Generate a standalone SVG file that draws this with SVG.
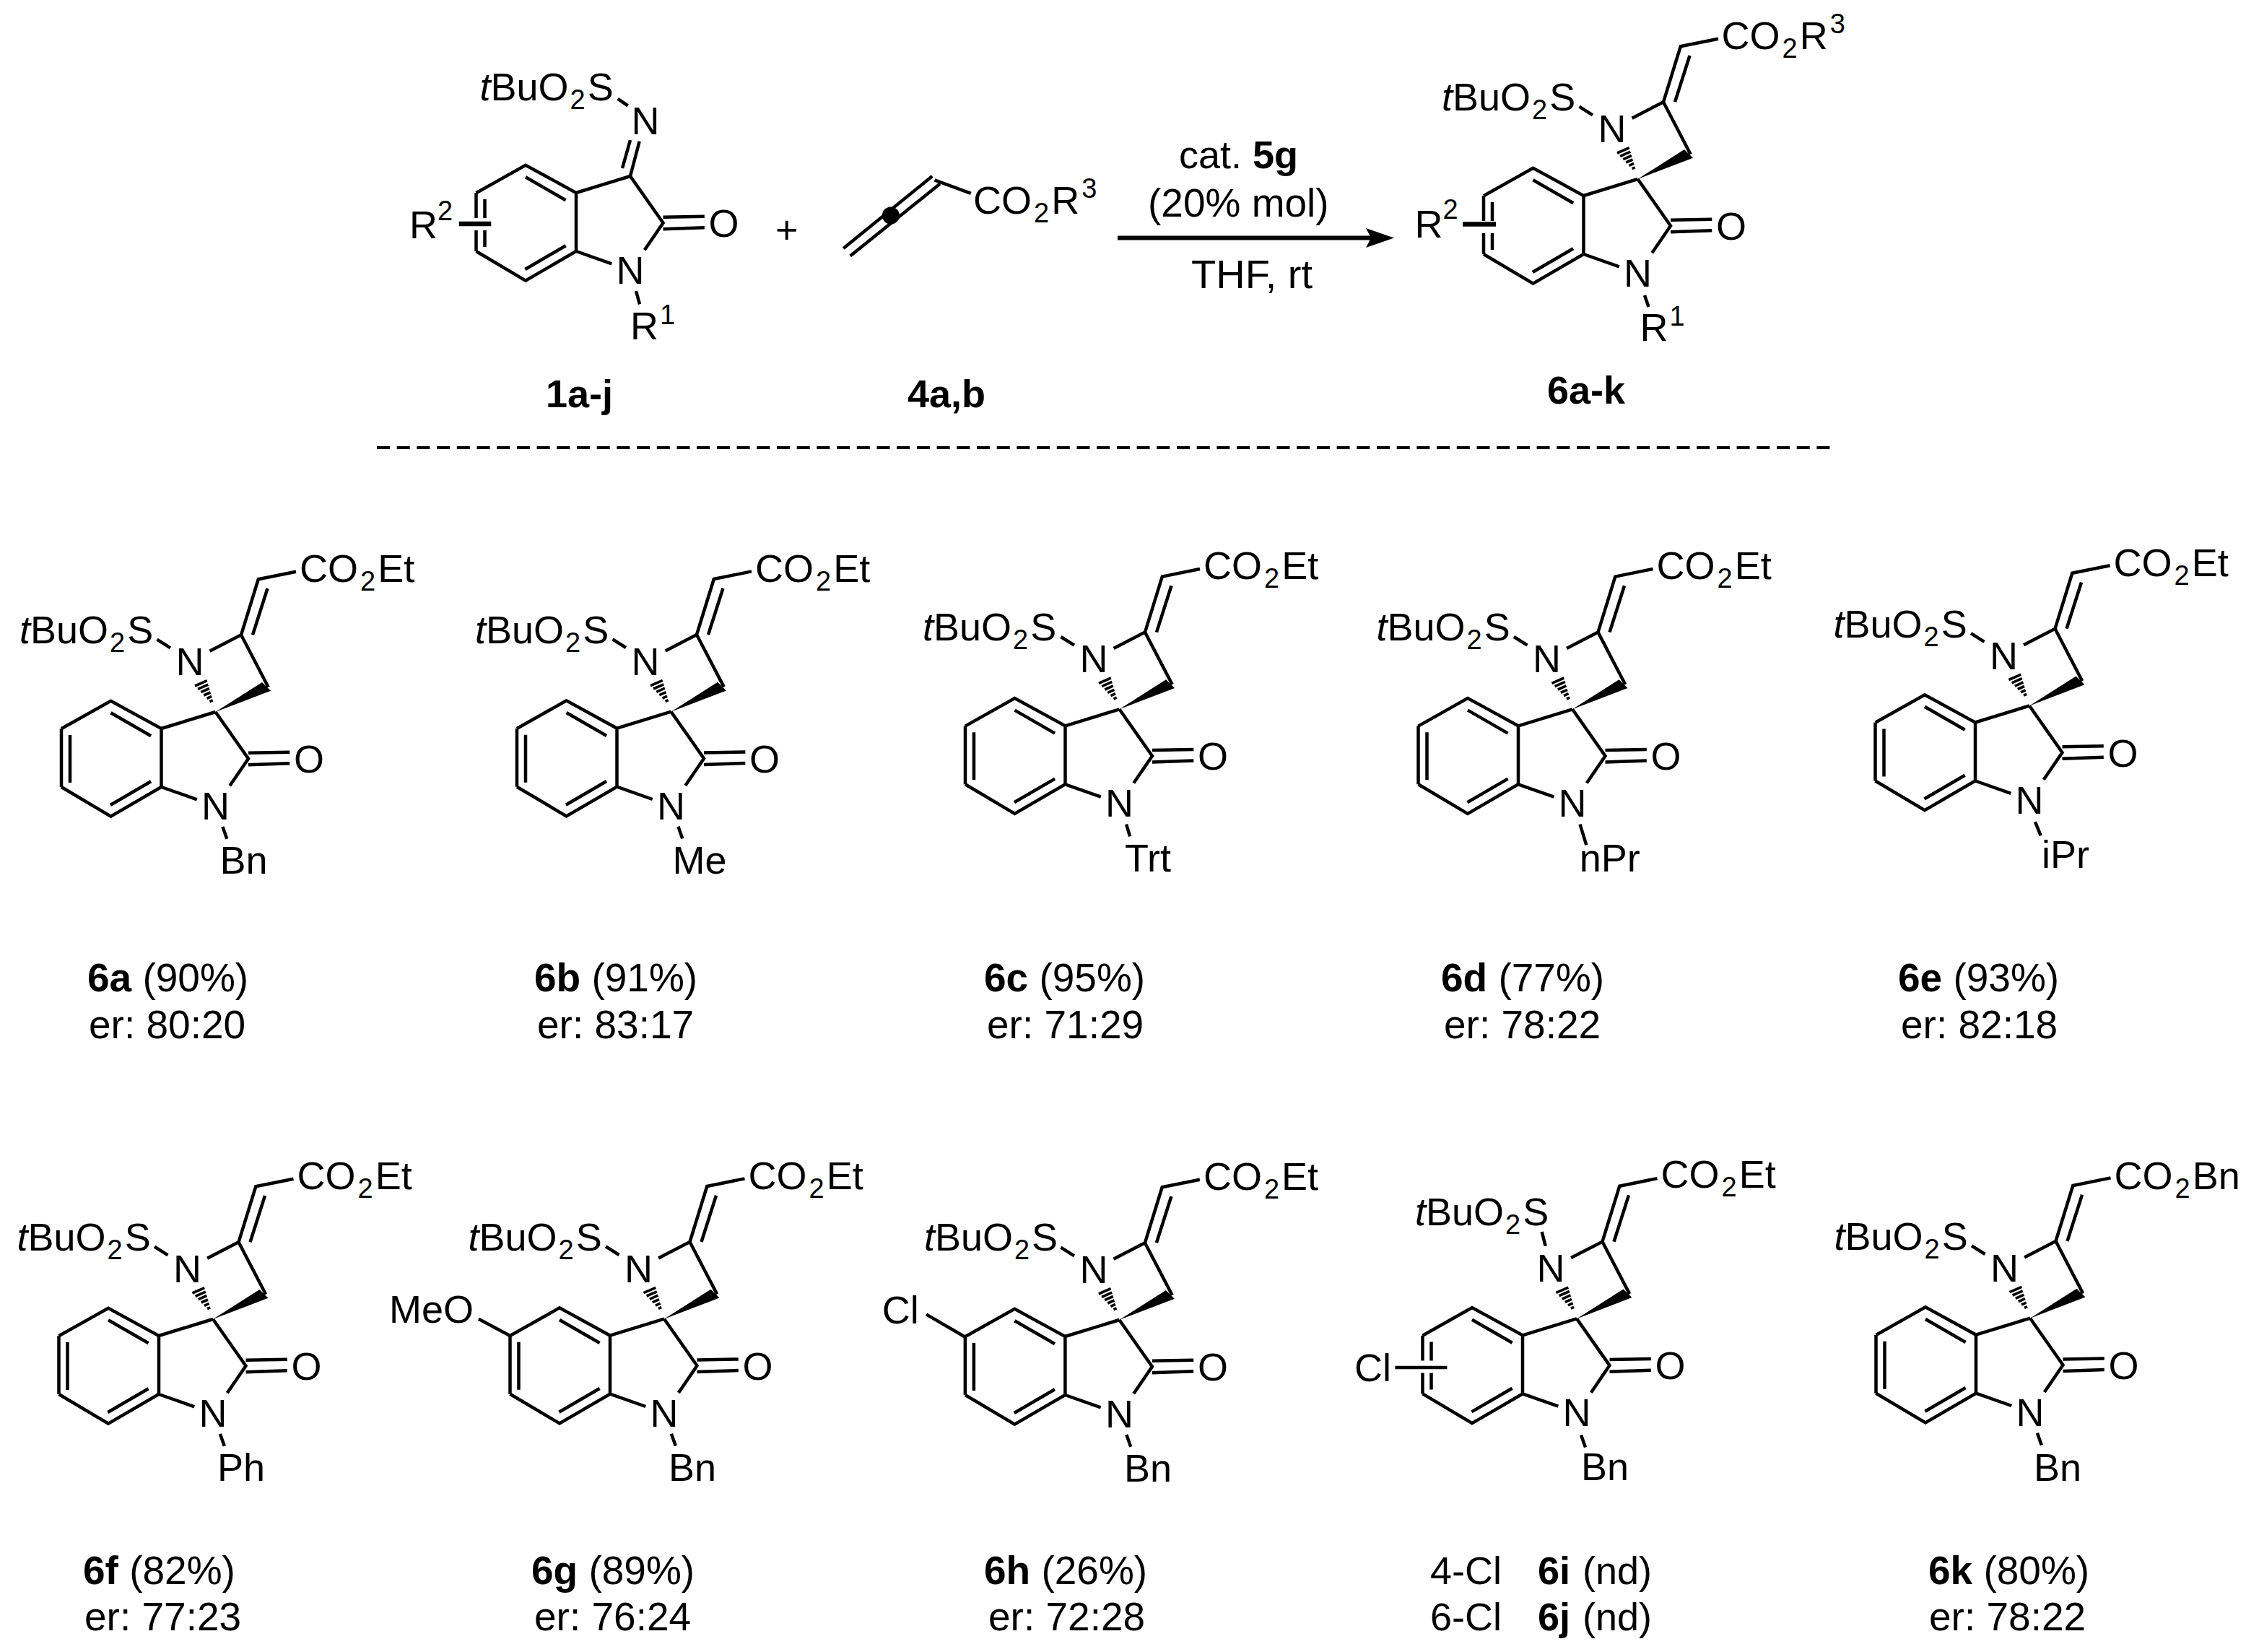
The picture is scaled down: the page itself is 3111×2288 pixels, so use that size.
<svg xmlns="http://www.w3.org/2000/svg" width="3111" height="2288" viewBox="0 0 3111 2288">
<style>
text{font-family:"Liberation Sans",Arial,sans-serif;font-size:54px;fill:#000}
.m{text-anchor:middle}
.b{font-weight:bold}
.i{font-style:italic}
.s{font-size:38px}
.y{font-size:55px}
.l{fill:none;stroke:#000;stroke-width:4.5;stroke-linejoin:miter;stroke-linecap:butt}
.h{fill:none;stroke:#000;stroke-width:3.6}
.f{fill:#000;stroke:none}
</style>
<defs>
<g id="indole">
<path class="l" d="M-213.5,23.3L-145,-15.3L-75,23V104L-145,144.7L-213.5,104M-145,1.3L-89.4,33.3M-145.6,129L-89.4,96.3M0,0L-75,23M0,0L45.5,64.7L19.8,102.3M-75,104L-25.7,121.3M45.5,56.7L102.8,55.7M45.5,73.3L102.8,71.3"/>
</g>
<path id="leftFull" class="l" d="M-213.5,23.3V104M-201.5,32V98"/>
<path id="leftGap" class="l" d="M-213.5,23.3V58M-213.5,75V104M-201.5,32V58M-201.5,75V98"/>
<g id="azet">
<path class="l" d="M-7.9,-84.3L35.5,-106.7L73.2,-34.3M35.5,-106.7L59.3,-183.7L111.5,-194.3M51.5,-106.7L72,-171"/>
<polygon class="f" points="0,0 64.5,-41 76.5,-29.3"/>
<path class="h" d="M-28.5,-36L-11.7,-43.3M-24.4,-31.7L-10.2,-37.9M-20.2,-27.3L-8.6,-32.5M-16.2,-23L-7,-27M-12,-18.6L-5.4,-21.6M-8,-14.3L-3.8,-16.1"/>
</g>
</defs>

<g id="reactant-1a-j" transform="translate(873,244)">
<use href="#indole"/><use href="#leftGap"/>
<path class="l" d="M0,0L12.7,-48.3M-11,-11L0,-50M-17.3,-107.2L-3.3,-97.6"/>
<path d="M-237.3,66H-192.7" fill="none" stroke="#000" stroke-width="6.5"/>
<path class="l" d="M8,159L13,177.4"/>
<text x="-208.5" y="-105.4"><tspan class="i">t</tspan>BuO<tspan class="s" dy="12" dx="2">2</tspan><tspan dy="-12" dx="3">S</tspan></text>
<text x="21" y="-58.3" class="m">N</text>
<text x="129.5" y="84" class="m">O</text>
<text x="0" y="149" class="m">N</text>
<text x="-306" y="86">R</text><text x="-267" y="60.6" class="s">2</text>
<text x="0" y="226">R</text><text x="41" y="205" class="s">1</text>
</g>
<text id="plus" x="1074" y="337">+</text>
<g id="reactant-4a-b">
<path class="l" d="M1168.2,344L1291.3,244M1177.7,354.6L1302,254.6M1294.5,249.3L1344.8,267.9"/>
<circle class="f" cx="1233.9" cy="298.6" r="12"/>
<text x="1348" y="295.7">CO<tspan class="s" dy="12" dx="3">2</tspan><tspan dy="-12" dx="3">R</tspan><tspan class="s" dy="-22" dx="3">3</tspan></text>
</g>
<text id="label-1a-j" x="756" y="564" class="b">1a-j</text>
<text id="label-4a-b" x="1257" y="564" class="b">4a,b</text>
<g id="reaction-arrow">
<path d="M1548,329.4H1900" fill="none" stroke="#000" stroke-width="6"/>
<path class="f" d="M1931,329.4L1892,316L1899,329.4L1892,343Z"/>
<text x="1633" y="233">cat. <tspan class="b">5g</tspan></text>
<text x="1590" y="300" class="y">(20% mol)</text>
<text x="1650" y="399" style="font-size:56px">THF, rt</text>
</g>
<g id="product-6a-k" transform="translate(2268.5,248)">
<use href="#indole"/><use href="#azet"/><use href="#leftGap"/>
<path class="l" d="M-81,-100.3L-62.5,-88.7M9.5,161L15,177"/>
<path d="M-242.5,62.5H-196.5" fill="none" stroke="#000" stroke-width="6.5"/>
<text x="-271.5" y="-95"><tspan class="i">t</tspan>BuO<tspan class="s" dy="12" dx="2">2</tspan><tspan dy="-12" dx="3">S</tspan></text>
<text x="116" y="-180">CO<tspan class="s" dy="12" dx="3">2</tspan><tspan dy="-12" dx="3">R</tspan><tspan class="s" dy="-22" dx="3">3</tspan></text>
<text x="-35.5" y="-51" class="m">N</text>
<text x="129.5" y="84" class="m">O</text>
<text x="0" y="149" class="m">N</text>
<text x="-309" y="81">R</text><text x="-270" y="55" class="s">2</text>
<text x="3" y="224">R</text><text x="44" y="203" class="s">1</text>
</g>
<text id="label-6a-k" x="2143" y="559" class="b">6a-k</text>
<path id="separator" d="M522,620H2543" fill="none" stroke="#000" stroke-width="4" stroke-dasharray="18 9.7"/>

<g id="compound-6a" transform="translate(298.5,986)">
<use href="#indole"/><use href="#azet"/><use href="#leftFull"/>
<path class="l" d="M-81,-100.3L-62.5,-88.7M9.9,159L15.8,175.7"/>
<text x="-271.5" y="-95"><tspan class="i">t</tspan>BuO<tspan class="s" dy="12" dx="2">2</tspan><tspan dy="-12" dx="3">S</tspan></text>
<text x="116.5" y="-180">CO<tspan class="s" dy="12" dx="3">2</tspan><tspan dy="-12" dx="3">Et</tspan></text>
<text x="-35.5" y="-51" class="m">N</text><text x="129.5" y="84" class="m">O</text><text x="0" y="149" class="m">N</text>
<text x="6" y="224">Bn</text>
</g>
<g id="compound-6b" transform="translate(929.5,985.7)">
<use href="#indole"/><use href="#azet"/><use href="#leftFull"/>
<path class="l" d="M-81,-100.3L-62.5,-88.7M9.9,159L15.8,175.7"/>
<text x="-271.5" y="-95"><tspan class="i">t</tspan>BuO<tspan class="s" dy="12" dx="2">2</tspan><tspan dy="-12" dx="3">S</tspan></text>
<text x="116.5" y="-180">CO<tspan class="s" dy="12" dx="3">2</tspan><tspan dy="-12" dx="3">Et</tspan></text>
<text x="-35.5" y="-51" class="m">N</text><text x="129.5" y="84" class="m">O</text><text x="0" y="149" class="m">N</text>
<text x="2" y="224.3">Me</text>
</g>
<g id="compound-6c" transform="translate(1550.5,982.3)">
<use href="#indole"/><use href="#azet"/><use href="#leftFull"/>
<path class="l" d="M-81,-100.3L-62.5,-88.7M9.6,159.4L14.6,176"/>
<text x="-272.5" y="-95.5"><tspan class="i">t</tspan>BuO<tspan class="s" dy="12" dx="2">2</tspan><tspan dy="-12" dx="3">S</tspan></text>
<text x="116.5" y="-180">CO<tspan class="s" dy="12" dx="3">2</tspan><tspan dy="-12" dx="3">Et</tspan></text>
<text x="-35.5" y="-51" class="m">N</text><text x="129.5" y="84" class="m">O</text><text x="0" y="149" class="m">N</text>
<text x="7.5" y="225">Trt</text>
</g>
<g id="compound-6d" transform="translate(2178,982.3)">
<use href="#indole"/><use href="#azet"/><use href="#leftFull"/>
<path class="l" d="M-81,-100.3L-62.5,-88.7M10.5,159.4L19.3,188"/>
<text x="-271.5" y="-95"><tspan class="i">t</tspan>BuO<tspan class="s" dy="12" dx="2">2</tspan><tspan dy="-12" dx="3">S</tspan></text>
<text x="116.5" y="-180">CO<tspan class="s" dy="12" dx="3">2</tspan><tspan dy="-12" dx="3">Et</tspan></text>
<text x="-35.5" y="-51" class="m">N</text><text x="129.5" y="84" class="m">O</text><text x="0" y="149" class="m">N</text>
<text x="9.7" y="225">nPr</text>
</g>
<g id="compound-6e" transform="translate(2811,977.5)">
<use href="#indole"/><use href="#azet"/><use href="#leftFull"/>
<path class="l" d="M-81,-100.3L-62.5,-88.7M8,160.8L15.7,179.8"/>
<text x="-271.5" y="-95"><tspan class="i">t</tspan>BuO<tspan class="s" dy="12" dx="2">2</tspan><tspan dy="-12" dx="3">S</tspan></text>
<text x="116.5" y="-180">CO<tspan class="s" dy="12" dx="3">2</tspan><tspan dy="-12" dx="3">Et</tspan></text>
<text x="-35.5" y="-51" class="m">N</text><text x="129.5" y="84" class="m">O</text><text x="0" y="149" class="m">N</text>
<text x="17" y="224.8">iPr</text>
</g>
<g id="compound-6f" transform="translate(295,1827)">
<use href="#indole"/><use href="#azet"/><use href="#leftFull"/>
<path class="l" d="M-81,-100.3L-62.5,-88.7M9.9,159L15.8,175.7"/>
<text x="-271.5" y="-95"><tspan class="i">t</tspan>BuO<tspan class="s" dy="12" dx="2">2</tspan><tspan dy="-12" dx="3">S</tspan></text>
<text x="116.5" y="-180">CO<tspan class="s" dy="12" dx="3">2</tspan><tspan dy="-12" dx="3">Et</tspan></text>
<text x="-35.5" y="-51" class="m">N</text><text x="129.5" y="84" class="m">O</text><text x="0" y="149" class="m">N</text>
<text x="6" y="224">Ph</text>
</g>
<g id="compound-6g" transform="translate(920,1826.7)">
<use href="#indole"/><use href="#azet"/><use href="#leftFull"/>
<path class="l" d="M-81,-100.3L-62.5,-88.7M9.9,159L15.8,175.7M-257,0L-213.5,23.3"/>
<text x="-271.5" y="-95"><tspan class="i">t</tspan>BuO<tspan class="s" dy="12" dx="2">2</tspan><tspan dy="-12" dx="3">S</tspan></text>
<text x="116.5" y="-180">CO<tspan class="s" dy="12" dx="3">2</tspan><tspan dy="-12" dx="3">Et</tspan></text>
<text x="-35.5" y="-51" class="m">N</text><text x="129.5" y="84" class="m">O</text><text x="0" y="149" class="m">N</text>
<text x="6" y="224">Bn</text>
<text x="-381" y="5">MeO</text>
</g>
<g id="compound-6h" transform="translate(1550.4,1828)">
<use href="#indole"/><use href="#azet"/><use href="#leftFull"/>
<path class="l" d="M-81,-100.3L-62.5,-88.7M9.9,159L15.8,175.7M-267.4,-7.6L-213,24"/>
<text x="-270.5" y="-96.5"><tspan class="i">t</tspan>BuO<tspan class="s" dy="12" dx="2">2</tspan><tspan dy="-12" dx="3">S</tspan></text>
<text x="116.5" y="-180">CO<tspan class="s" dy="12" dx="3">2</tspan><tspan dy="-12" dx="3">Et</tspan></text>
<text x="-35.5" y="-51" class="m">N</text><text x="129.5" y="84" class="m">O</text><text x="0" y="149" class="m">N</text>
<text x="6.6" y="223.5">Bn</text>
<text x="-328.7" y="4.5">Cl</text>
</g>
<g id="compound-6i-j" transform="translate(2184,1826.4)">
<use href="#indole"/><use href="#azet"/><use href="#leftGap"/>
<path class="l" d="M-48.3,-120.4L-43.3,-100.6M6,161L12,178M-251.6,67.6H-179.6"/>
<text x="-224" y="-129"><tspan class="i">t</tspan>BuO<tspan class="s" dy="12" dx="2">2</tspan><tspan dy="-12" dx="3">S</tspan></text>
<text x="116.5" y="-181">CO<tspan class="s" dy="12" dx="3">2</tspan><tspan dy="-12" dx="3">Et</tspan></text>
<text x="-36" y="-51.6" class="m">N</text><text x="129.5" y="84" class="m">O</text><text x="0" y="149" class="m">N</text>
<text x="6" y="224">Bn</text>
<text x="-308" y="87">Cl</text>
</g>
<g id="compound-6k" transform="translate(2812,1825.7)">
<use href="#indole"/><use href="#azet"/><use href="#leftFull"/>
<path class="l" d="M-81,-100.3L-62.5,-88.7M9.9,159L15.8,175.7"/>
<text x="-271.5" y="-95"><tspan class="i">t</tspan>BuO<tspan class="s" dy="12" dx="2">2</tspan><tspan dy="-12" dx="3">S</tspan></text>
<text x="116.5" y="-179">CO<tspan class="s" dy="12" dx="3">2</tspan><tspan dy="-12" dx="3">Bn</tspan></text>
<text x="-35.5" y="-51" class="m">N</text><text x="129.5" y="84" class="m">O</text><text x="0" y="149" class="m">N</text>
<text x="5" y="225">Bn</text>
</g>

<g id="yields">
<text class="y" x="121" y="1373"><tspan class="b">6a</tspan> (90%)</text><text class="y" x="123" y="1438">er: 80:20</text>
<text class="y" x="740" y="1373"><tspan class="b">6b</tspan> (91%)</text><text class="y" x="744" y="1438">er: 83:17</text>
<text class="y" x="1363" y="1373"><tspan class="b">6c</tspan> (95%)</text><text class="y" x="1367" y="1438">er: 71:29</text>
<text class="y" x="1996" y="1373"><tspan class="b">6d</tspan> (77%)</text><text class="y" x="2000" y="1438">er: 78:22</text>
<text class="y" x="2629" y="1373"><tspan class="b">6e</tspan> (93%)</text><text class="y" x="2633" y="1438">er: 82:18</text>
<text class="y" x="115" y="2194"><tspan class="b">6f</tspan> (82%)</text><text class="y" x="117" y="2258">er: 77:23</text>
<text class="y" x="736" y="2194"><tspan class="b">6g</tspan> (89%)</text><text class="y" x="740" y="2258">er: 76:24</text>
<text class="y" x="1363" y="2194"><tspan class="b">6h</tspan> (26%)</text><text class="y" x="1369" y="2258">er: 72:28</text>
<text x="1981" y="2194">4-Cl</text><text x="2130" y="2194" class="b">6i</text><text x="2192" y="2194">(nd)</text>
<text x="1981" y="2258">6-Cl</text><text x="2130" y="2258" class="b">6j</text><text x="2192" y="2258">(nd)</text>
<text class="y" x="2671" y="2194"><tspan class="b">6k</tspan> (80%)</text><text class="y" x="2672" y="2258">er: 78:22</text>
</g>
</svg>
